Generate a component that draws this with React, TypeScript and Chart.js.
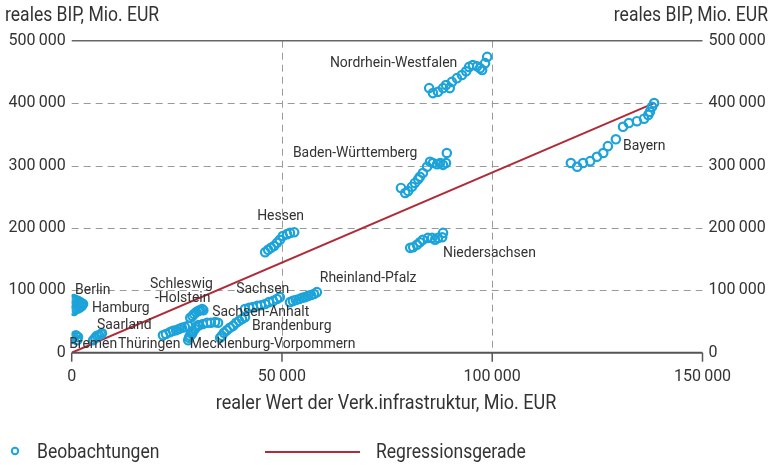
import React, { useEffect, useRef } from 'react';
import { Chart, registerables } from 'chart.js';

Chart.register(...registerables);

const FONT = "Roboto, 'Noto Sans', sans-serif";
const TEXT = '#333333';
const BLUE = '#1ca3da';
const RED = '#b02a37';

const xTicks = [0, 50000, 100000, 150000];
const yTicks = [0, 100000, 200000, 300000, 400000, 500000];

const yTitle = 'reales BIP, Mio. EUR';
const xTitle = 'realer Wert der Verk.infrastruktur, Mio. EUR';
const legendPoints = 'Beobachtungen';
const legendLine = 'Regressionsgerade';

const nordrheinWestfalen = [[85000,424000],[85900,416000],[87100,418000],[88300,424000],[89000,429000],[89900,424000],[90400,434000],[91600,440000],[92800,445000],[93800,451000],[94500,458000],[95400,461000],[96400,459000],[97100,456000],[97600,453000],[98300,464000],[98800,474000]];
const badenWuerttemberg = [[78300,264000],[79300,256000],[80000,259000],[80900,266000],[81600,272000],[82400,278000],[82800,282000],[83500,288000],[84500,298000],[85200,306000],[85900,304000],[86900,302000],[87600,304000],[88300,301000],[89000,304000],[89200,320000]];
const niedersachsen = [[80500,168000],[81200,169000],[82100,173000],[82800,177000],[83500,181000],[84700,184000],[85700,184000],[86400,181000],[87100,184000],[88100,185000],[88300,192000]];
const bayern = [[118700,304000],[120200,298000],[121600,304000],[123300,307000],[124900,314000],[126400,320000],[127500,331000],[129400,342000],[131100,362000],[132500,368000],[134400,371000],[136100,375000],[137100,381000],[137500,386000],[138000,394000],[138500,400000]];
const hessen = [[46000,161000],[46700,165000],[47400,168000],[48100,171000],[48800,176000],[49500,181000],[50200,187000],[51200,190000],[51900,192000],[52900,193000]];
const rheinlandPfalz = [[51900,81000],[52600,83000],[53300,84500],[54100,86000],[54800,88000],[55500,89000],[56200,91000],[56900,92500],[57600,94000],[58300,97000]];
const sachsen = [[41200,70000],[42200,72000],[43100,73000],[44100,75000],[45000,76000],[46000,78000],[46900,81000],[47900,83000],[48800,86000],[49500,89000]];
const brandenburg = [[35300,24000],[35700,27000],[36200,32000],[36900,36000],[37600,40000],[38400,43000],[39100,48000],[39800,51000],[40500,54000],[41200,57000]];
const sachsenAnhalt = [[30300,44000],[31200,46000],[32200,48000],[33100,48000],[34100,49000],[34800,48000]];
const mecklenburgVorpommern = [[27700,20000],[27900,24000],[28100,27000],[28600,30000],[28800,33000],[29300,38000],[29600,41000],[30000,44000]];
const thueringen = [[21700,28000],[22400,30000],[23400,33000],[24100,35000],[24800,36000],[25500,38000],[26200,40000],[26900,41000],[27700,43000]];
const schleswigHolstein = [[28200,56000],[28700,59000],[29100,62000],[29600,65000],[30100,67000],[30500,68000],[31000,70000],[31300,68000]];
const berlin = [[100,84000],[500,86000],[1000,84000],[1500,83000],[2000,81000],[2400,79000]];
const hamburg = [[100,68000],[500,67000],[1000,70000],[1500,71000],[2000,73000],[2400,75000],[2700,78000]];
const bremen = [[100,22000],[500,25000],[1000,28000],[1500,25000],[1300,20000]];
const saarland = [[5100,20000],[5600,24000],[6000,27000],[6500,28000],[7000,30000],[7200,31000]];

const regression = [[0, 0], [138500, 400000]];

const stateLabels = [
  { text: 'Nordrhein-Westfalen', x: 61400, y: 464000 },
  { text: 'Baden-Württemberg', x: 52600, y: 320000 },
  { text: 'Bayern', x: 131100, y: 331000 },
  { text: 'Hessen', x: 44100, y: 219000 },
  { text: 'Niedersachsen', x: 88300, y: 160000 },
  { text: 'Rheinland-Pfalz', x: 59000, y: 120000 },
  { text: 'Sachsen', x: 39100, y: 102000 },
  { text: 'Schleswig', x: 18600, y: 110000 },
  { text: '-Holstein', x: 19800, y: 88000 },
  { text: 'Berlin', x: 800, y: 100000 },
  { text: 'Hamburg', x: 4800, y: 72000 },
  { text: 'Saarland', x: 6000, y: 44000 },
  { text: 'Sachsen-Anhalt', x: 33400, y: 65000 },
  { text: 'Brandenburg', x: 42900, y: 43000 },
  { text: 'Bremen', x: -600, y: 14000 },
  { text: 'Thüringen', x: 11000, y: 14000 },
  { text: 'Mecklenburg-Vorpommern', x: 28100, y: 14000 },
];

const allStates = [
  nordrheinWestfalen, badenWuerttemberg, niedersachsen, bayern, hessen, rheinlandPfalz,
  sachsen, brandenburg, sachsenAnhalt, mecklenburgVorpommern, thueringen, schleswigHolstein,
  berlin, hamburg, bremen, saarland,
];

const fmt = (v: number) => String(v).replace(/\B(?=(\d{3})+(?!\d))/g, '\u2009');

// draws condensed text: larger font squeezed horizontally
const condText = (ctx: any, text: string, x: number, y: number, size: number, align: string, squeeze = 0.88) => {
  ctx.save();
  ctx.font = `${size}px ${FONT}`;
  ctx.textAlign = align;
  ctx.translate(x, y);
  ctx.scale(squeeze, 1);
  ctx.fillText(text, 0, 0);
  ctx.restore();
};

const decor = {
  id: 'decor',
  beforeDatasetsDraw(chart: any) {
    const { ctx, chartArea: a, scales } = chart;
    const x = scales.x, y = scales.y;
    const line = (x1: number, y1: number, x2: number, y2: number) => {
      ctx.beginPath(); ctx.moveTo(x1, y1); ctx.lineTo(x2, y2); ctx.stroke();
    };
    ctx.save();
    ctx.strokeStyle = '#9a9a9a';
    ctx.lineWidth = 1;
    ctx.setLineDash([7, 5]);
    for (const v of yTicks) {
      if (v === yTicks[0] || v === yTicks[yTicks.length - 1]) continue;
      const py = Math.round(y.getPixelForValue(v)) + 0.5;
      line(a.left, py, a.right, py);
    }
    for (const v of xTicks) {
      if (v === xTicks[0] || v === xTicks[xTicks.length - 1]) continue;
      const px = Math.round(x.getPixelForValue(v)) + 0.5;
      line(px, a.top, px, a.bottom);
    }
    ctx.setLineDash([]);
    ctx.strokeStyle = '#666';
    ctx.lineWidth = 1.5;
    const top = y.getPixelForValue(yTicks[yTicks.length - 1]);
    line(a.left, top, a.right, top);
    ctx.strokeStyle = '#555';
    ctx.lineWidth = 2;
    const bottom = y.getPixelForValue(0);
    line(a.left, bottom, a.right, bottom);
    ctx.lineWidth = 1.5;
    for (const v of xTicks) {
      const px = x.getPixelForValue(v);
      line(px, bottom, px, bottom + 9);
    }
    ctx.restore();
  },
  afterDatasetsDraw(chart: any) {
    const { ctx, scales, width } = chart;
    const x = scales.x, y = scales.y;
    ctx.save();
    ctx.fillStyle = TEXT;
    ctx.textBaseline = 'middle';
    for (const l of stateLabels) {
      condText(ctx, l.text, x.getPixelForValue(l.x), y.getPixelForValue(l.y), 15.5, 'left', 0.9);
    }
    condText(ctx, yTitle, 5, 16, 19.5, 'left', 0.9);
    condText(ctx, yTitle, width - 3, 16, 19.5, 'right', 0.9);
    condText(ctx, xTitle, 386, 404, 20, 'center', 0.9);
    // legend
    condText(ctx, legendPoints, 37, 453, 19.5, 'left', 0.9);
    condText(ctx, legendLine, 376, 453, 19.5, 'left', 0.9);
    ctx.strokeStyle = BLUE;
    ctx.lineWidth = 2;
    ctx.beginPath(); ctx.arc(15, 451, 3.2, 0, Math.PI * 2); ctx.stroke();
    ctx.strokeStyle = RED;
    ctx.beginPath(); ctx.moveTo(265, 452); ctx.lineTo(360, 452); ctx.stroke();
    ctx.restore();
  },
};

export default function App() {
  const ref = useRef<HTMLCanvasElement>(null);
  useEffect(() => {
    document.body.style.margin = '0';
    const points = allStates.flat().map(([px, py]) => ({ x: px, y: py }));
    const tickFont = { family: FONT, size: 16 };
    const chart = new Chart(ref.current!, {
      type: 'scatter',
      data: {
        datasets: [
          {
            label: legendPoints,
            data: points,
            pointRadius: 4.2,
            pointBorderWidth: 2.2,
            pointBorderColor: BLUE,
            pointBackgroundColor: 'rgba(255,255,255,0)',
            showLine: false,
          },
          {
            type: 'line',
            label: legendLine,
            data: regression.map(([px, py]) => ({ x: px, y: py })),
            borderColor: RED,
            borderWidth: 2,
            pointRadius: 0,
            fill: false,
          } as any,
        ],
      },
      options: {
        animation: false,
        responsive: false,
        maintainAspectRatio: false,
        events: [],
        layout: { padding: { top: 40.7, left: 0, right: 0, bottom: 0 } },
        plugins: { legend: { display: false }, tooltip: { enabled: false } },
        scales: {
          x: {
            type: 'linear',
            min: 0,
            max: 150000,
            afterBuildTicks: (s: any) => { s.ticks = xTicks.map((v) => ({ value: v })); },
            afterFit: (s: any) => { s.height = 465 - 352.7; },
            grid: { display: false, drawTicks: false },
            border: { display: false },
            ticks: { padding: 15, color: TEXT, font: tickFont, callback: (v: any) => fmt(Number(v)), maxRotation: 0 },
          },
          y: {
            type: 'linear',
            position: 'left',
            min: 0,
            max: 500000,
            afterBuildTicks: (s: any) => { s.ticks = yTicks.map((v) => ({ value: v })); },
            afterFit: (s: any) => { s.width = 71.7; },
            grid: { display: false, drawTicks: false },
            border: { display: false },
            ticks: { padding: 6, color: TEXT, font: tickFont, callback: (v: any) => fmt(Number(v)) },
          },
          y2: {
            type: 'linear',
            position: 'right',
            min: 0,
            max: 500000,
            afterBuildTicks: (s: any) => { s.ticks = yTicks.map((v) => ({ value: v })); },
            afterFit: (s: any) => { s.width = 771 - 702.5; },
            grid: { display: false, drawTicks: false },
            border: { display: false },
            ticks: { padding: 6, color: TEXT, font: tickFont, callback: (v: any) => fmt(Number(v)) },
          },
        },
      },
      plugins: [decor],
    });
    return () => chart.destroy();
  }, []);
  return (
    <div style={{ width: 771, height: 465 }}>
      <canvas ref={ref} width={771} height={465} style={{ display: 'block' }} />
    </div>
  );
}
